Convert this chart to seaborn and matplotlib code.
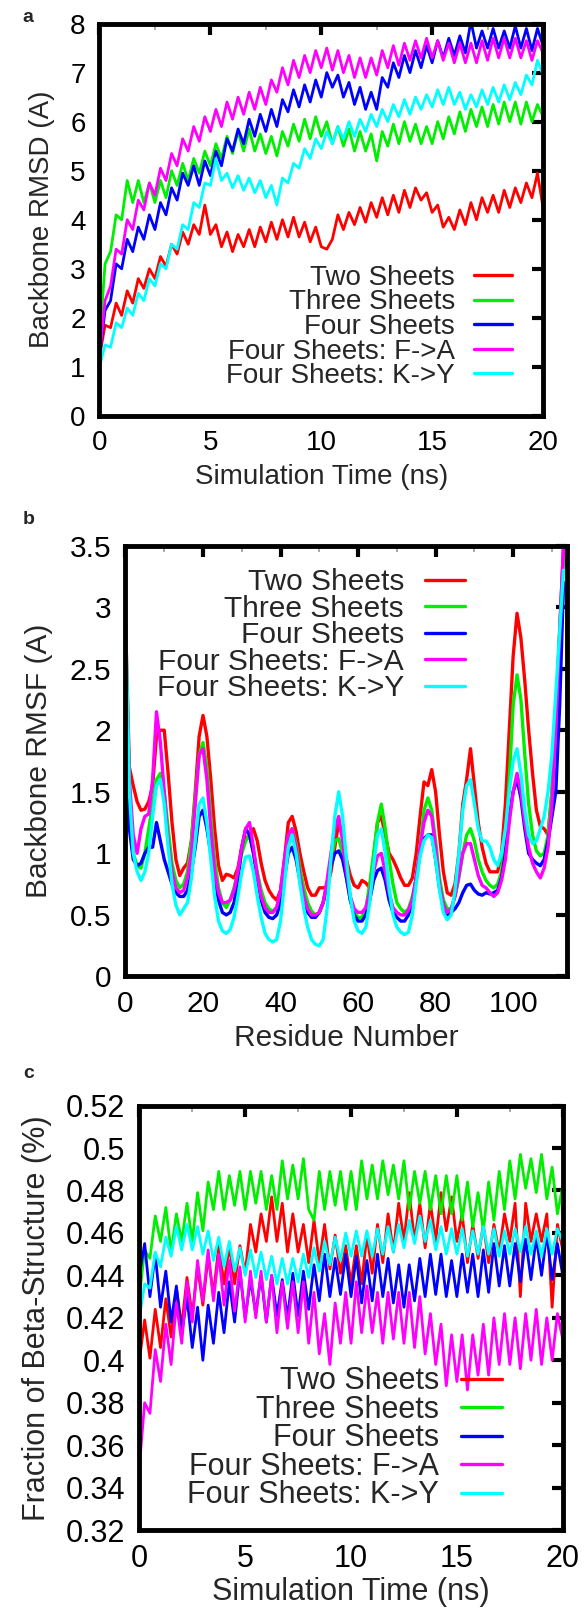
import numpy as np
import pandas as pd
import seaborn as sns
import matplotlib.pyplot as plt
from matplotlib.ticker import MultipleLocator, FuncFormatter

names = ['Two Sheets', 'Three Sheets', 'Four Sheets', 'Four Sheets: F->A', 'Four Sheets: K->Y']
colors = ['#ff0000', '#00ee00', '#0000ff', '#ff00ff', '#00ffff']

# time grid for panels a and c (ns), one value every 0.25 ns
time_ns = np.linspace(0, 20, 81)
residues = np.arange(114)

# ---- panel a: backbone RMSD (A), rows of 10 values = 2.5 ns
rmsd_two = [1.2, 1.85, 1.8, 2.3, 2.05, 2.55, 2.3, 2.8, 2.6, 3.0,
            2.8, 3.25, 3.05, 3.5, 3.3, 3.75, 3.5, 3.9, 3.7, 4.3,
            3.7, 3.9, 3.45, 3.75, 3.35, 3.7, 3.45, 3.8, 3.45, 3.85,
            3.55, 3.95, 3.6, 4.0, 3.65, 4.05, 3.65, 3.95, 3.55, 3.85,
            3.45, 3.4, 3.6, 4.1, 3.8, 4.15, 3.9, 4.25, 3.95, 4.35,
            4.05, 4.45, 4.1, 4.5, 4.15, 4.6, 4.25, 4.65, 4.4, 4.55,
            4.15, 4.3, 3.85, 4.05, 3.8, 4.2, 3.9, 4.35, 4.0, 4.45,
            4.15, 4.5, 4.15, 4.6, 4.25, 4.65, 4.35, 4.75, 4.45, 4.95,
            4.25]
rmsd_three = [1.5, 3.1, 3.35, 4.1, 4.0, 4.8, 4.35, 4.8, 4.35, 4.75,
              4.35, 4.8, 4.45, 5.0, 4.7, 5.15, 4.8, 5.25, 4.95, 5.4,
              5.1, 5.55, 5.25, 5.7, 5.35, 5.8, 5.4, 5.85, 5.4, 5.75,
              5.35, 5.7, 5.3, 5.8, 5.5, 5.95, 5.6, 6.05, 5.65, 6.1,
              5.7, 6.0, 5.55, 5.9, 5.5, 5.85, 5.4, 5.8, 5.4, 5.75,
              5.2, 5.8, 5.5, 5.95, 5.55, 6.0, 5.6, 5.95, 5.55, 5.9,
              5.55, 6.0, 5.65, 6.1, 5.75, 6.2, 5.8, 6.25, 5.9, 6.3,
              5.9, 6.35, 5.95, 6.4, 6.0, 6.4, 5.95, 6.4, 6.0, 6.35,
              6.1]
rmsd_four = [1.2, 2.15, 2.35, 3.1, 3.0, 3.6, 3.35, 3.85, 3.6, 4.1,
             3.8, 4.35, 4.1, 4.65, 4.4, 4.95, 4.7, 5.1, 4.7, 5.2,
             4.9, 5.4, 5.1, 5.65, 5.4, 5.85, 5.55, 6.05, 5.7, 6.15,
             5.8, 6.25, 5.9, 6.45, 6.2, 6.65, 6.3, 6.75, 6.4, 6.85,
             6.5, 7.0, 6.7, 6.95, 6.5, 6.8, 6.35, 6.7, 6.25, 6.6,
             6.25, 6.9, 6.7, 7.2, 6.9, 7.35, 7.0, 7.45, 7.1, 7.55,
             7.2, 7.65, 7.3, 7.7, 7.35, 7.75, 7.4, 8.05, 7.5, 7.85,
             7.5, 7.9, 7.5, 7.85, 7.5, 7.95, 7.5, 7.9, 7.45, 7.9,
             7.55]
rmsd_fa = [1.2, 2.35, 2.65, 3.4, 3.3, 4.0, 3.8, 4.4, 4.2, 4.75,
           4.5, 5.05, 4.8, 5.35, 5.1, 5.65, 5.4, 5.9, 5.6, 6.1,
           5.8, 6.25, 5.9, 6.4, 6.05, 6.5, 6.15, 6.6, 6.25, 6.7,
           6.35, 6.85, 6.6, 7.1, 6.75, 7.25, 6.9, 7.35, 7.0, 7.45,
           7.1, 7.5, 7.05, 7.45, 7.0, 7.35, 6.9, 7.3, 6.9, 7.3,
           6.95, 7.45, 7.1, 7.55, 7.15, 7.6, 7.25, 7.65, 7.3, 7.7,
           7.3, 7.65, 7.25, 7.6, 7.2, 7.6, 7.2, 7.6, 7.2, 7.65,
           7.25, 7.7, 7.3, 7.7, 7.3, 7.7, 7.3, 7.65, 7.25, 7.65,
           7.4]
rmsd_ky = [1.0, 1.45, 1.4, 1.9, 1.8, 2.2, 2.05, 2.5, 2.35, 2.8,
           2.65, 3.1, 3.0, 3.5, 3.4, 3.9, 3.8, 4.35, 4.25, 4.75,
           4.7, 5.25, 4.8, 4.95, 4.65, 4.9, 4.6, 4.85, 4.55, 4.8,
           4.45, 4.7, 4.3, 4.85, 4.75, 5.15, 5.05, 5.45, 5.25, 5.65,
           5.45, 5.8, 5.55, 5.9, 5.65, 6.0, 5.7, 6.05, 5.8, 6.15,
           5.9, 6.25, 6.0, 6.35, 6.1, 6.45, 6.15, 6.5, 6.25, 6.55,
           6.3, 6.65, 6.35, 6.7, 6.35, 6.6, 6.25, 6.55, 6.3, 6.65,
           6.35, 6.7, 6.4, 6.75, 6.45, 6.8, 6.55, 6.95, 6.75, 7.25,
           6.95]

# ---- panel b: backbone RMSF (A) per residue, rows of 10 residues
rmsf_two = [2.9, 1.7, 1.55, 1.42, 1.35, 1.36, 1.42, 1.55, 1.95, 2.0,
            2.0, 1.65, 1.25, 0.95, 0.82, 0.88, 0.92, 1.1, 1.5, 1.95,
            2.12, 1.95, 1.6, 1.2, 0.9, 0.78, 0.83, 0.82, 0.8, 0.88,
            1.05, 1.12, 1.15, 1.2, 1.1, 0.92, 0.78, 0.7, 0.65, 0.62,
            0.7, 0.95, 1.25, 1.3, 1.18, 1.0, 0.85, 0.72, 0.66, 0.66,
            0.72, 0.72, 0.73, 0.85, 1.05, 1.25, 1.15, 0.95, 0.82, 0.74,
            0.72, 0.78, 0.76, 0.72, 0.95, 1.25, 1.3, 1.15, 1.0, 0.95,
            0.88, 0.8, 0.74, 0.74, 0.8, 1.0, 1.3, 1.58, 1.55, 1.68,
            1.5, 1.15, 0.85, 0.68, 0.66, 0.75, 1.0, 1.4, 1.6, 1.85,
            1.55, 1.25, 1.05, 0.92, 0.85, 0.85, 0.85, 1.0, 1.4, 2.0,
            2.6, 2.95, 2.75, 2.4, 2.0, 1.65, 1.35, 1.22, 1.2, 1.15,
            1.5, 2.1, 2.8, 3.5]
rmsf_three = [2.7, 1.4, 1.0, 0.9, 0.88, 1.0, 1.2, 1.4, 1.6, 1.65,
              1.5, 1.2, 0.92, 0.78, 0.72, 0.75, 0.85, 1.1, 1.45, 1.8,
              1.9, 1.7, 1.3, 0.95, 0.72, 0.6, 0.56, 0.62, 0.72, 0.85,
              1.0, 1.1, 1.15, 1.02, 0.85, 0.7, 0.6, 0.55, 0.53, 0.56,
              0.68, 0.9, 1.1, 1.2, 1.08, 0.88, 0.72, 0.6, 0.53, 0.5,
              0.52, 0.6, 0.75, 0.95, 1.1, 1.12, 1.0, 0.8, 0.62, 0.52,
              0.48, 0.48, 0.55, 0.75, 1.0, 1.25, 1.4, 1.2, 0.95, 0.75,
              0.6, 0.55, 0.52, 0.55, 0.65, 0.8, 1.05, 1.35, 1.45, 1.35,
              1.1, 0.8, 0.62, 0.55, 0.55, 0.65, 0.8, 1.0, 1.15, 1.2,
              1.1, 0.95, 0.85, 0.78, 0.74, 0.72, 0.75, 0.85, 1.1, 1.6,
              2.2, 2.45, 2.25, 1.8, 1.4, 1.15, 1.02, 0.98, 1.0, 1.15,
              1.5, 2.1, 2.8, 3.4]
rmsf_four = [2.0, 1.2, 0.95, 0.9, 0.92, 1.0, 1.05, 1.05, 1.25, 1.1,
             0.95, 0.85, 0.75, 0.68, 0.65, 0.65, 0.7, 0.85, 1.05, 1.3,
             1.35, 1.2, 1.0, 0.8, 0.62, 0.52, 0.5, 0.52, 0.6, 0.78,
             1.05, 1.2, 1.15, 1.0, 0.8, 0.62, 0.52, 0.48, 0.47, 0.5,
             0.6, 0.8, 1.0, 1.05, 0.95, 0.78, 0.62, 0.52, 0.48, 0.48,
             0.52, 0.6, 0.75, 0.9, 1.0, 1.02, 0.95, 0.8, 0.62, 0.5,
             0.45, 0.45, 0.5, 0.62, 0.78, 0.86, 0.88, 0.78, 0.62, 0.52,
             0.48, 0.45, 0.45, 0.5, 0.6, 0.8, 1.0, 1.12, 1.15, 1.15,
             0.95, 0.72, 0.58, 0.5, 0.52, 0.55, 0.6, 0.68, 0.74, 0.75,
             0.7, 0.67, 0.66, 0.68, 0.67, 0.68, 0.7, 0.8, 1.0, 1.3,
             1.5, 1.6, 1.45, 1.2, 1.0, 0.95, 0.92, 0.9, 0.95, 1.1,
             1.3, 1.5, 2.2, 3.2]
rmsf_fa = [2.6, 1.6, 1.15, 1.0, 1.2, 1.3, 1.32, 1.6, 2.15, 1.9,
           1.5, 1.1, 0.85, 0.72, 0.68, 0.7, 0.8, 1.0, 1.4, 1.8,
           1.85, 1.6, 1.2, 0.85, 0.68, 0.6, 0.6, 0.62, 0.7, 0.85,
           1.05, 1.2, 1.25, 1.05, 0.82, 0.65, 0.56, 0.52, 0.52, 0.56,
           0.7, 0.95, 1.15, 1.2, 1.05, 0.82, 0.65, 0.55, 0.5, 0.5,
           0.52, 0.6, 0.78, 1.0, 1.2, 1.3, 1.1, 0.85, 0.65, 0.55,
           0.52, 0.52, 0.56, 0.68, 0.85, 0.98, 1.0, 0.85, 0.68, 0.56,
           0.52, 0.5, 0.5, 0.54, 0.62, 0.8, 1.05, 1.25, 1.35, 1.3,
           1.05, 0.75, 0.58, 0.52, 0.55, 0.65, 0.82, 1.0, 1.08, 1.08,
           0.95, 0.82, 0.74, 0.72, 0.68, 0.65, 0.68, 0.78, 0.95, 1.25,
           1.5, 1.65, 1.5, 1.25, 1.05, 0.92, 0.85, 0.8, 0.88, 1.05,
           1.4, 2.0, 2.8, 3.5]
rmsf_ky = [2.95, 1.5, 1.0, 0.85, 0.78, 0.85, 1.0, 1.3, 1.55, 1.6,
           1.4, 1.05, 0.75, 0.58, 0.5, 0.55, 0.6, 0.8, 1.1, 1.4,
           1.45, 1.25, 0.95, 0.65, 0.45, 0.37, 0.35, 0.38, 0.48, 0.65,
           0.85, 0.97, 0.98, 0.85, 0.65, 0.48, 0.35, 0.3, 0.28, 0.3,
           0.45, 0.75, 1.05, 1.15, 1.0, 0.75, 0.55, 0.4, 0.3, 0.26,
           0.25, 0.3, 0.55, 0.95, 1.3, 1.5, 1.3, 0.95, 0.65, 0.45,
           0.37, 0.35, 0.4, 0.6, 0.9, 1.15, 1.2, 1.0, 0.72, 0.5,
           0.4, 0.36, 0.34, 0.36, 0.5, 0.75, 0.98, 1.1, 1.15, 1.13,
           0.95, 0.7, 0.52, 0.46, 0.5, 0.7, 1.0, 1.35, 1.55, 1.6,
           1.4, 1.2, 1.1, 1.1, 1.05, 0.95, 0.9, 1.0, 1.2, 1.5,
           1.75, 1.85, 1.65, 1.35, 1.15, 1.08, 1.1, 1.2, 1.3, 1.5,
           1.8, 2.3, 2.8, 3.3]

# ---- panel c: fraction of beta structure, rows of 10 values = 2.5 ns
beta_two = [0.400, 0.419, 0.401, 0.424, 0.406, 0.429, 0.411, 0.434, 0.416, 0.439,
            0.421, 0.444, 0.426, 0.449, 0.431, 0.454, 0.436, 0.454, 0.436, 0.454,
            0.441, 0.464, 0.451, 0.469, 0.456, 0.477, 0.456, 0.474, 0.451, 0.469,
            0.451, 0.464, 0.446, 0.466, 0.446, 0.464, 0.443, 0.459, 0.441, 0.454,
            0.436, 0.454, 0.436, 0.459, 0.441, 0.464, 0.446, 0.469, 0.451, 0.474,
            0.456, 0.479, 0.456, 0.474, 0.453, 0.474, 0.456, 0.479, 0.461, 0.477,
            0.456, 0.469, 0.446, 0.464, 0.448, 0.464, 0.446, 0.464, 0.451, 0.469,
            0.456, 0.474, 0.430, 0.474, 0.456, 0.469, 0.456, 0.469, 0.425, 0.464,
            0.452]
beta_three = [0.430, 0.452, 0.448, 0.468, 0.456, 0.472, 0.451, 0.469, 0.456, 0.474,
              0.456, 0.479, 0.461, 0.484, 0.471, 0.489, 0.471, 0.487, 0.473, 0.489,
              0.471, 0.489, 0.474, 0.489, 0.471, 0.487, 0.471, 0.494, 0.476, 0.492,
              0.476, 0.495, 0.471, 0.466, 0.489, 0.471, 0.489, 0.473, 0.489, 0.471,
              0.489, 0.471, 0.494, 0.476, 0.492, 0.476, 0.494, 0.478, 0.492, 0.476,
              0.494, 0.471, 0.489, 0.474, 0.489, 0.471, 0.487, 0.469, 0.487, 0.469,
              0.487, 0.466, 0.484, 0.463, 0.479, 0.461, 0.484, 0.466, 0.489, 0.471,
              0.494, 0.476, 0.497, 0.481, 0.495, 0.479, 0.497, 0.476, 0.491, 0.469,
              0.482]
beta_four = [0.440, 0.455, 0.430, 0.450, 0.425, 0.442, 0.418, 0.435, 0.412, 0.430,
             0.406, 0.425, 0.400, 0.426, 0.408, 0.432, 0.413, 0.437, 0.418, 0.442,
             0.420, 0.438, 0.422, 0.440, 0.418, 0.440, 0.421, 0.438, 0.420, 0.441,
             0.421, 0.442, 0.424, 0.445, 0.428, 0.450, 0.430, 0.448, 0.431, 0.450,
             0.430, 0.449, 0.427, 0.447, 0.428, 0.450, 0.430, 0.448, 0.427, 0.445,
             0.425, 0.445, 0.428, 0.448, 0.430, 0.450, 0.431, 0.450, 0.430, 0.447,
             0.430, 0.450, 0.432, 0.450, 0.430, 0.452, 0.432, 0.455, 0.435, 0.454,
             0.435, 0.455, 0.437, 0.457, 0.438, 0.458, 0.440, 0.460, 0.438, 0.455,
             0.440]
beta_fa = [0.350, 0.380, 0.375, 0.405, 0.390, 0.417, 0.398, 0.427, 0.408, 0.437,
           0.418, 0.447, 0.428, 0.452, 0.428, 0.450, 0.426, 0.447, 0.423, 0.444,
           0.418, 0.442, 0.420, 0.442, 0.418, 0.440, 0.413, 0.437, 0.415, 0.437,
           0.413, 0.437, 0.408, 0.432, 0.403, 0.422, 0.398, 0.427, 0.408, 0.432,
           0.408, 0.437, 0.413, 0.435, 0.413, 0.432, 0.408, 0.432, 0.410, 0.432,
           0.408, 0.432, 0.406, 0.430, 0.403, 0.422, 0.398, 0.417, 0.388, 0.412,
           0.390, 0.412, 0.386, 0.412, 0.393, 0.417, 0.393, 0.420, 0.398, 0.422,
           0.398, 0.420, 0.396, 0.422, 0.400, 0.424, 0.398, 0.420, 0.400, 0.422,
           0.410]
beta_ky = [0.420, 0.436, 0.434, 0.451, 0.444, 0.458, 0.449, 0.463, 0.452, 0.464,
           0.452, 0.463, 0.450, 0.461, 0.447, 0.458, 0.444, 0.456, 0.442, 0.453,
           0.440, 0.452, 0.439, 0.451, 0.438, 0.449, 0.436, 0.448, 0.436, 0.448,
           0.437, 0.450, 0.439, 0.453, 0.442, 0.456, 0.445, 0.458, 0.447, 0.460,
           0.449, 0.461, 0.449, 0.461, 0.449, 0.462, 0.450, 0.463, 0.451, 0.464,
           0.453, 0.466, 0.455, 0.468, 0.456, 0.466, 0.452, 0.463, 0.450, 0.462,
           0.450, 0.462, 0.449, 0.461, 0.450, 0.463, 0.450, 0.462, 0.449, 0.461,
           0.450, 0.462, 0.451, 0.463, 0.450, 0.461, 0.449, 0.462, 0.450, 0.462,
           0.456]

sns.set_theme(style='white')
plt.rcParams['font.family'] = ['Liberation Sans', 'DejaVu Sans']
plt.rcParams['axes.linewidth'] = 3.5
plt.rcParams['axes.edgecolor'] = 'black'

fig = plt.figure(figsize=(5.88, 16.14), dpi=100)
ax_a = fig.add_axes([0.1692, 0.7423, 0.7543, 0.2431])
ax_b = fig.add_axes([0.2134, 0.395, 0.7516, 0.267])
ax_c = fig.add_axes([0.237, 0.052, 0.720, 0.263])

# (axis, x values, series, font size)
panels = [
    (ax_a, time_ns, [rmsd_two, rmsd_three, rmsd_four, rmsd_fa, rmsd_ky], 20),
    (ax_b, residues, [rmsf_two, rmsf_three, rmsf_four, rmsf_fa, rmsf_ky], 21.5),
    (ax_c, time_ns, [beta_two, beta_three, beta_four, beta_fa, beta_ky], 22),
]
fmt = FuncFormatter(lambda v, p: f'{v:g}')
for ax, xs, series, fs in panels:
    lw = 2.4 if ax is ax_b else 2.0
    for name, col, ys in zip(names, colors, series):
        sns.lineplot(x=xs, y=ys, color=col, lw=lw, label=name, ax=ax, estimator=None)
    ax.tick_params(which='both', direction='in', top=True, right=True,
                   labelsize=fs, pad=10, colors='black')
    ax.tick_params(which='major', length=8, width=3)
    ax.tick_params(which='minor', length=4, width=1.2, color='0.6')
    ax.yaxis.set_major_formatter(fmt)
    ax.xaxis.set_major_formatter(fmt)

ax_a.set_xlim(0, 20)
ax_a.set_ylim(0, 8)
ax_a.xaxis.set_major_locator(MultipleLocator(5))
ax_a.xaxis.set_minor_locator(MultipleLocator(2.5))
ax_a.yaxis.set_major_locator(MultipleLocator(1))
ax_a.set_xlabel('Simulation Time (ns)', fontsize=20, labelpad=6)
ax_a.set_ylabel('Backbone RMSD (A)', fontsize=20, labelpad=11)

ax_b.set_xlim(0, 114)
ax_b.set_ylim(0, 3.5)
ax_b.xaxis.set_major_locator(MultipleLocator(20))
ax_b.xaxis.set_minor_locator(MultipleLocator(10))
ax_b.yaxis.set_major_locator(MultipleLocator(0.5))
ax_b.set_xlabel('Residue Number', fontsize=21.5, labelpad=4)
ax_b.set_ylabel('Backbone RMSF (A)', fontsize=21.5, labelpad=12)

ax_c.set_xlim(0, 20)
ax_c.set_ylim(0.32, 0.52)
ax_c.xaxis.set_major_locator(MultipleLocator(5))
ax_c.xaxis.set_minor_locator(MultipleLocator(2.5))
ax_c.yaxis.set_major_locator(MultipleLocator(0.02))
ax_c.set_xlabel('Simulation Time (ns)', fontsize=22, labelpad=2)
ax_c.set_ylabel('Fraction of Beta-Structure (%)', fontsize=22, labelpad=10)

legend_kw = dict(frameon=False, markerfirst=False, handlelength=1.35,
                 handletextpad=0.7, labelspacing=-0.05, borderaxespad=0)
for ax, anchor, loc, fs in [(ax_a, (0.955, 0.04), 'lower right', 20),
                            (ax_b, (0.796, 0.975), 'upper right', 21.5),
                            (ax_c, (0.885, 0.018), 'lower right', 22)]:
    leg = ax.legend(loc=loc, bbox_to_anchor=anchor, fontsize=fs, **legend_kw)
    for line in leg.get_lines():
        line.set_linewidth(2.4)

for letter, y in [('a', 0.989), ('b', 0.678), ('c', 0.335)]:
    fig.text(0.048, y, letter, fontsize=14, fontweight='bold', va='center', ha='center')

fig.savefig('out.png', dpi=100)
